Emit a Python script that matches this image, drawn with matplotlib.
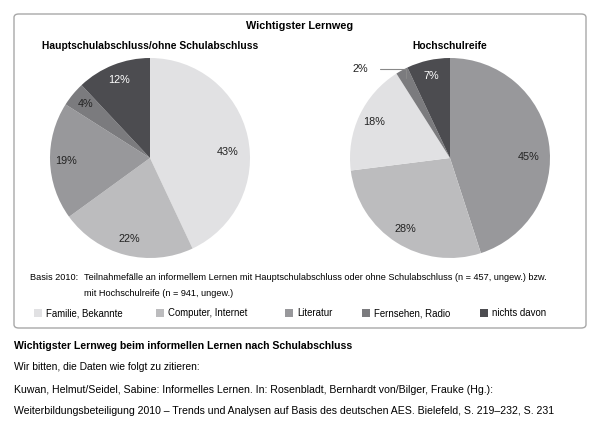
import matplotlib
matplotlib.use("Agg")
import matplotlib.pyplot as plt
from matplotlib.patches import FancyBboxPatch, Rectangle

plt.rcParams['font.family'] = ['Liberation Sans', 'DejaVu Sans']

# data
categories = ['Familie, Bekannte', 'Computer, Internet', 'Literatur', 'Fernsehen, Radio', 'nichts davon']
colors = ['#e1e1e3', '#bcbcbe', '#98989b', '#7b7b7e', '#4c4c50']

left_title = 'Hauptschulabschluss/ohne Schulabschluss'
left_values = [43, 22, 19, 4, 12]
left_colors = [colors[0], colors[1], colors[2], colors[3], colors[4]]

right_title = 'Hochschulreife'
right_values = [45, 28, 18, 2, 7]
# so wie im Original eingefärbt
right_colors = [colors[2], colors[1], colors[0], colors[3], colors[4]]

W, H = 600, 433
fig = plt.figure(figsize=(6, 4.33), dpi=100)


def px(x, y):
    return x / W, 1 - y / H


# Rahmen
box = FancyBboxPatch(px(14, 328), 572 / W, 314 / H,
                     boxstyle="round,pad=0,rounding_size=0.008",
                     transform=fig.transFigure, facecolor='none',
                     edgecolor='#a8a8a8', linewidth=1.0, zorder=-1)
fig.patches.append(box)

fig.text(*px(300, 26), 'Wichtigster Lernweg', ha='center', va='center',
         fontsize=7.8, fontweight='bold')


def draw_pie(cx, title, values, cols):
    r = 100
    ax = fig.add_axes([(cx - r) / W, 1 - (158 + r) / H, 2 * r / W, 2 * r / H])
    wedges, texts, autotexts = ax.pie(values, colors=cols, startangle=90,
                                      counterclock=False, autopct='%d%%',
                                      pctdistance=0.84,
                                      wedgeprops=dict(linewidth=0),
                                      textprops=dict(fontsize=7.8))
    for t, c in zip(autotexts, cols):
        t.set_color('white' if c == colors[4] else '#222222')
    ax.set_xlim(-1, 1)
    ax.set_ylim(-1, 1)
    ax.set_aspect('equal')
    ax.axis('off')
    fig.text(*px(cx, 46), title, ha='center', va='center',
             fontsize=7.4, fontweight='bold')
    return ax, autotexts


ax_l, at_l = draw_pie(150, left_title, left_values, left_colors)
ax_r, at_r = draw_pie(450, right_title, right_values, right_colors)

# die grossen Segmente sind im Original etwas tiefer beschriftet
for t in (at_l[0], at_r[0]):
    x, y = t.get_position()
    t.set_position((x - 0.04, y - 0.12))

# kleines Segment mit Hinweislinie beschriften
at_r[3].set_visible(False)
ax_r.annotate('2%', xy=(-0.44, 0.8), xytext=(-0.9, 0.89),
              fontsize=7.8, color='#222222', ha='center', va='center',
              arrowprops=dict(arrowstyle='-', color='#888888', lw=0.8,
                              connectionstyle='angle,angleA=0,angleB=90,rad=0',
                              shrinkA=7, shrinkB=0))

fs = 6.6
fig.text(*px(30, 277), 'Basis 2010:', fontsize=fs, va='center')
fig.text(*px(84, 277), 'Teilnahmefälle an informellem Lernen mit Hauptschulabschluss oder ohne '
         'Schulabschluss (n = 457, ungew.) bzw.', fontsize=fs, va='center')
fig.text(*px(84, 294), 'mit Hochschulreife (n = 941, ungew.)', fontsize=fs, va='center')

# Legende
legend_x = [34, 156, 285, 362, 480]
for x, lab, c in zip(legend_x, categories, colors):
    fig.patches.append(Rectangle(px(x, 317), 8 / W, 8 / H, transform=fig.transFigure,
                                 facecolor=c, edgecolor='none'))
    fig.text(*px(x + 12, 316.5), lab, fontsize=fs + 0.3, va='baseline')

fig.text(*px(14, 346), 'Wichtigster Lernweg beim informellen Lernen nach Schulabschluss',
         fontsize=7.6, fontweight='bold', va='center')
fig.text(*px(14, 367), 'Wir bitten, die Daten wie folgt zu zitieren:', fontsize=7.4, va='center')
fig.text(*px(14, 390), 'Kuwan, Helmut/Seidel, Sabine: Informelles Lernen. In: Rosenbladt, '
         'Bernhardt von/Bilger, Frauke (Hg.):', fontsize=7.55, va='center')
fig.text(*px(14, 411), 'Weiterbildungsbeteiligung 2010 – Trends und Analysen auf Basis des '
         'deutschen AES. Bielefeld, S. 219–232, S. 231', fontsize=7.55, va='center')

fig.savefig('out.png', dpi=100)
